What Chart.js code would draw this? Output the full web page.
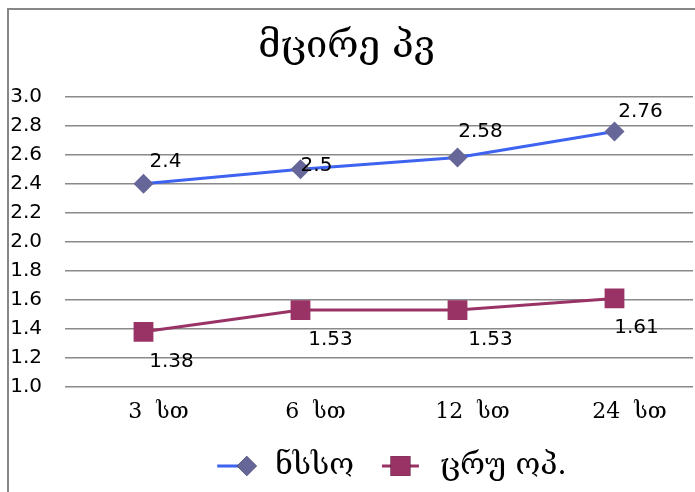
<!DOCTYPE html>
<html>
<head>
<meta charset="utf-8">
<script src="https://cdn.jsdelivr.net/npm/chart.js@4/dist/chart.umd.min.js"></script>
<style>
  html, body { margin: 0; padding: 0; background: #fff; }
  #wrap { width: 695px; height: 492px; position: relative; }
</style>
</head>
<body>
<div id="wrap"><canvas id="c" width="695" height="492"></canvas></div>
<script>
// Chart content
const chartTitle = 'მცირე პვ';
const categories = ['3  სთ', '6  სთ', '12  სთ', '24  სთ'];
const seriesNames = ['ნსსო', 'ცრუ ოპ.'];
const seriesA = [2.4, 2.5, 2.58, 2.76];
const seriesB = [1.38, 1.53, 1.53, 1.61];
const yMin = 1.0, yMax = 3.0, yStep = 0.2;

const georgianSerif = '"DejaVu Serif", "Liberation Serif", "DejaVu Sans", serif';
const sansFont = '"DejaVu Sans", Verdana, sans-serif';

// Frame lines along the top and left edges
const framePlugin = {
  id: 'frame',
  beforeDraw(chart) {
    const ctx = chart.ctx;
    ctx.save();
    ctx.strokeStyle = '#878787';
    ctx.lineWidth = 2;
    ctx.beginPath();
    ctx.moveTo(8, 492);
    ctx.lineTo(8, 9);
    ctx.lineTo(695, 9);
    ctx.stroke();
    ctx.restore();
  }
};

// Value labels next to each point
const valueLabelPlugin = {
  id: 'valueLabels',
  afterDatasetsDraw(chart) {
    const ctx = chart.ctx;
    ctx.save();
    ctx.font = '20px ' + sansFont;
    ctx.fillStyle = '#000';
    ctx.textAlign = 'center';
    ctx.textBaseline = 'middle';
    chart.data.datasets.forEach((ds, i) => {
      const meta = chart.getDatasetMeta(i);
      meta.data.forEach((pt, j) => {
        const off = ds.labelOffsets[j];
        ctx.fillText(String(ds.data[j]), pt.x + off[0], pt.y + off[1]);
      });
    });
    ctx.restore();
  }
};

// Legend with line + marker samples
const lineLegendPlugin = {
  id: 'lineLegend',
  afterDraw(chart) {
    const ctx = chart.ctx;
    const y = 466;
    ctx.save();
    ctx.font = '30px ' + georgianSerif;
    ctx.textBaseline = 'middle';
    ctx.textAlign = 'left';
    const items = chart.data.datasets.map(ds => ({
      ds, textW: ctx.measureText(ds.label).width
    }));
    const lineLen = 37, textGap = 21, itemGap = 28;
    let total = 0;
    items.forEach((it, i) => { total += lineLen + textGap + it.textW + (i ? itemGap : 0); });
    let x = 392 - total / 2;
    items.forEach((it, i) => {
      if (i) x += itemGap;
      const ds = it.ds;
      ctx.strokeStyle = ds.borderColor;
      ctx.lineWidth = 3;
      ctx.beginPath();
      ctx.moveTo(x, y);
      ctx.lineTo(x + lineLen, y);
      ctx.stroke();
      const mx = x + (ds.legendMarkerAt * lineLen);
      Chart.helpers.drawPoint(ctx, {
        pointStyle: ds.pointStyle, radius: ds.pointRadius, borderWidth: 0, rotation: 0
      }, mx, y);
      ctx.fillStyle = ds.pointBackgroundColor;
      ctx.fill();
      ctx.fillStyle = '#000';
      ctx.fillText(ds.label, x + lineLen + textGap, y);
      x += lineLen + textGap + it.textW;
    });
    ctx.restore();
  }
};

new Chart(document.getElementById('c'), {
  type: 'line',
  data: {
    labels: categories,
    datasets: [
      {
        label: seriesNames[0],
        data: seriesA,
        borderColor: '#3d63f0',
        borderWidth: 3,
        pointStyle: 'rectRot',
        pointRadius: 10,
        pointHoverRadius: 10,
        pointBackgroundColor: '#666699',
        pointBorderColor: '#666699',
        pointBorderWidth: 0,
        tension: 0,
        labelOffsets: [[22, -22], [16, -3], [23, -26], [26, -20]],
        legendMarkerAt: 0.8
      },
      {
        label: seriesNames[1],
        data: seriesB,
        borderColor: '#993366',
        borderWidth: 3,
        pointStyle: 'rect',
        pointRadius: 14,
        pointHoverRadius: 14,
        pointBackgroundColor: '#993366',
        pointBorderColor: '#993366',
        pointBorderWidth: 0,
        tension: 0,
        labelOffsets: [[28, 30], [30, 30], [33, 30], [22, 29]],
        legendMarkerAt: 0.5
      }
    ]
  },
  options: {
    responsive: false,
    animation: false,
    events: [],
    layout: { autoPadding: false, padding: { left: 0, right: 2, top: 0, bottom: 0 } },
    plugins: {
      legend: { display: false },
      tooltip: { enabled: false },
      title: {
        display: true,
        text: chartTitle,
        color: '#000',
        font: { family: georgianSerif, size: 38, weight: 'normal', lineHeight: 1.2 },
        padding: { top: 24, bottom: 27 }
      }
    },
    scales: {
      x: {
        offset: true,
        grid: { display: false, drawTicks: false },
        border: { display: false },
        ticks: {
          color: '#000',
          font: { family: georgianSerif, size: 22 },
          padding: 12,
          labelOffset: 15,
          maxRotation: 0,
          autoSkip: false
        },
        afterFit(scale) {
          scale.height = 105;
          scale.paddingLeft = 0;
          scale.paddingRight = 0;
        }
      },
      y: {
        min: yMin,
        max: yMax,
        grid: { color: '#8a8a8a', lineWidth: 1.5, drawTicks: false },
        border: { display: false },
        ticks: {
          stepSize: yStep,
          color: '#000',
          font: { family: sansFont, size: 20 },
          padding: 23,
          callback: v => Number(v).toFixed(1)
        },
        afterFit(scale) { scale.width = 65; }
      }
    }
  },
  plugins: [framePlugin, valueLabelPlugin, lineLegendPlugin]
});
</script>
</body>
</html>
